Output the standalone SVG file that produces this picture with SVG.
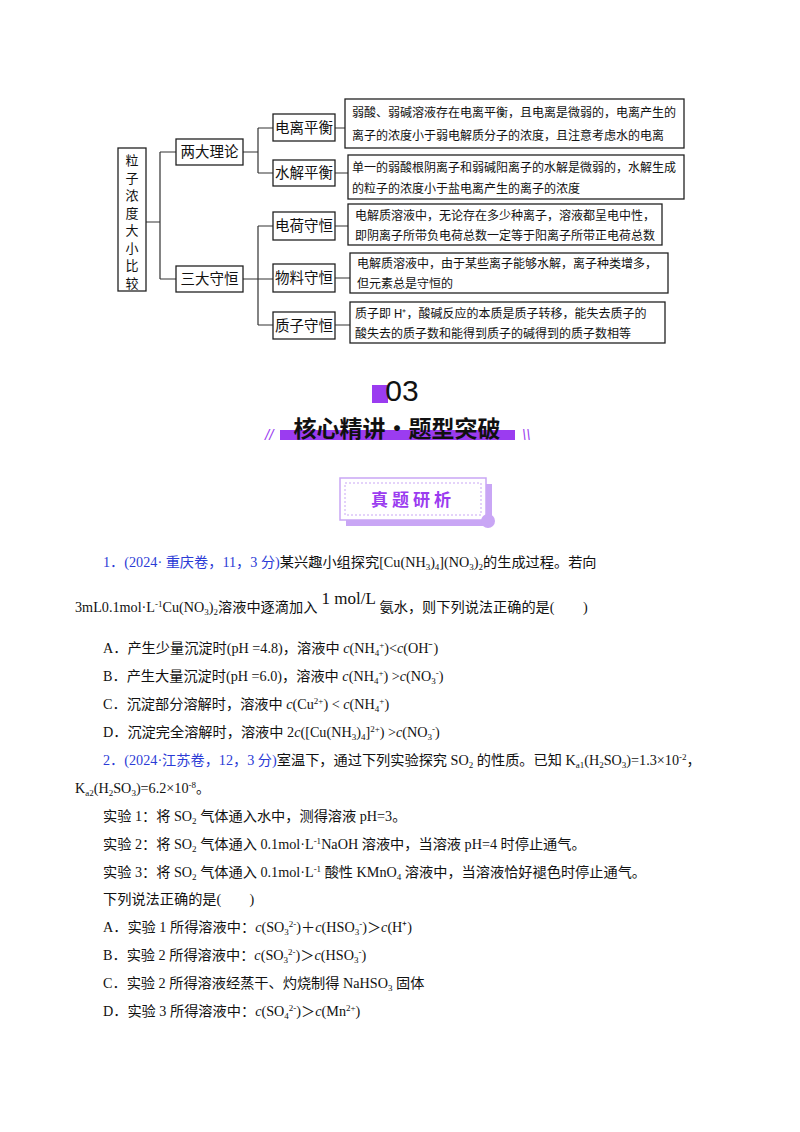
<svg xmlns="http://www.w3.org/2000/svg" width="800" height="1132" viewBox="0 0 800 1132">
<style>
.b{fill:#fff;stroke:#222;stroke-width:1.3}
.bt{font-family:"Noto Sans CJK SC",sans-serif;font-size:14.5px;fill:#111}
.vt{font-family:"Noto Sans CJK SC",sans-serif;font-size:13px;fill:#111;text-anchor:middle}
.st{font-family:"Noto Sans CJK SC",sans-serif;font-size:12px;fill:#111}
.ln{stroke:#333;stroke-width:1.2;fill:none}
.t{font-family:"Liberation Serif","Noto Sans CJK SC",serif;font-size:14.2px;fill:#111}
.blue{fill:#2b3bd6}
.sub{font-size:9px;baseline-shift:-3px}
.sup{font-size:9px;baseline-shift:super}
</style>
<rect width="800" height="1132" fill="#fff"/>
<g id="connectors">
<path class="ln" d="M146 222H160M160 152V279M160 152H176M160 279H176"/>
<path class="ln" d="M243 152H258M258 128V173M258 128H273M258 173H273M335 128H345M335 173H348"/>
<path class="ln" d="M243 279H273M258 226V325M258 226H273M258 325H273M335 226H348M335 278H350M335 325H350"/>
</g>
<g id="root"><rect class="b" x="118" y="148" width="28" height="143"/>
<text class="vt" x="132" y="165">粒</text><text class="vt" x="132" y="182.5">子</text><text class="vt" x="132" y="200">浓</text><text class="vt" x="132" y="217.5">度</text><text class="vt" x="132" y="235">大</text><text class="vt" x="132" y="252.5">小</text><text class="vt" x="132" y="270">比</text><text class="vt" x="132" y="287.5">较</text></g>
<g id="n1"><rect class="b" x="176" y="139" width="67" height="26"/><text class="bt" x="209.5" y="157" text-anchor="middle">两大理论</text></g>
<g id="n2"><rect class="b" x="176" y="266" width="67" height="26"/><text class="bt" x="209.5" y="284" text-anchor="middle">三大守恒</text></g>
<g id="n3"><rect class="b" x="273" y="114" width="62" height="27"/><text class="bt" x="304" y="133" text-anchor="middle">电离平衡</text></g>
<g id="n4"><rect class="b" x="273" y="160" width="62" height="26"/><text class="bt" x="304" y="178" text-anchor="middle">水解平衡</text></g>
<g id="n5"><rect class="b" x="273" y="212" width="62" height="28"/><text class="bt" x="304" y="231" text-anchor="middle">电荷守恒</text></g>
<g id="n6"><rect class="b" x="273" y="264" width="62" height="28"/><text class="bt" x="304" y="283" text-anchor="middle">物料守恒</text></g>
<g id="n7"><rect class="b" x="273" y="312" width="62" height="27"/><text class="bt" x="304" y="331" text-anchor="middle">质子守恒</text></g>
<g id="d1"><rect class="b" x="345" y="99" width="339" height="49"/><text class="st" x="352" y="117">弱酸、弱碱溶液存在电离平衡，且电离是微弱的，电离产生的</text><text class="st" x="352" y="140">离子的浓度小于弱电解质分子的浓度，且注意考虑水的电离</text></g>
<g id="d2"><rect class="b" x="348" y="155" width="336" height="44"/><text class="st" x="352" y="172">单一的弱酸根阴离子和弱碱阳离子的水解是微弱的，水解生成</text><text class="st" x="352" y="193">的粒子的浓度小于盐电离产生的离子的浓度</text></g>
<g id="d3"><rect class="b" x="348" y="204" width="314" height="41"/><text class="st" x="355" y="220">电解质溶液中，无论存在多少种离子，溶液都呈电中性，</text><text class="st" x="355" y="240">即阴离子所带负电荷总数一定等于阳离子所带正电荷总数</text></g>
<g id="d4"><rect class="b" x="350" y="253" width="318" height="40"/><text class="st" x="357" y="268">电解质溶液中，由于某些离子能够水解，离子种类增多，</text><text class="st" x="357" y="288">但元素总是守恒的</text></g>
<g id="d5"><rect class="b" x="350" y="302" width="315" height="41"/><text class="st" x="355" y="318">质子即 H⁺，酸碱反应的本质是质子转移，能失去质子的</text><text class="st" x="355" y="338">酸失去的质子数和能得到质子的碱得到的质子数相等</text></g>
<g id="header">
<rect x="372" y="385" width="16" height="18" fill="#9b3cf0"/>
<text x="402" y="401" text-anchor="middle" font-family="Liberation Sans,sans-serif" font-size="30" fill="#111">03</text>
<rect x="280" y="430" width="235" height="10" fill="#9b3cf0"/>
<text x="397" y="437" text-anchor="middle" font-family="Noto Sans CJK SC,sans-serif" font-weight="bold" font-size="23" fill="#111">核心精讲·题型突破</text>
<text x="265" y="440" font-family="Liberation Sans,sans-serif" font-size="15" fill="#9b3cf0" font-style="italic">//</text>
<text x="522" y="440" font-family="Liberation Sans,sans-serif" font-size="15" fill="#9b3cf0" font-style="italic">\\</text>
<rect x="346" y="484" width="146" height="42" fill="#c9a6f5"/>
<rect x="340" y="478" width="146" height="42" fill="#fff" stroke="#c9a6f5" stroke-width="1.5"/>
<rect x="345" y="483" width="136" height="32" fill="none" stroke="#c9a6f5" stroke-dasharray="2,2"/>
<circle cx="488" cy="521" r="7" fill="#c9a6f5"/>
<text x="413" y="506" text-anchor="middle" font-family="Noto Sans CJK SC,sans-serif" font-weight="bold" font-size="17" letter-spacing="4" fill="#9b3cf0">真题研析</text>
</g>
<g id="q1">
<text class="t" x="103" y="567"><tspan class="blue">1．(2024· 重庆卷，11，3 分)</tspan>某兴趣小组探究[Cu(NH<tspan class="sub">3</tspan>)<tspan class="sub">4</tspan>](NO<tspan class="sub">3</tspan>)<tspan class="sub">2</tspan>的生成过程。若向</text>
<text class="t" x="75" y="612">3mL0.1mol·L<tspan class="sup">-1</tspan>Cu(NO<tspan class="sub">3</tspan>)<tspan class="sub">2</tspan>溶液中逐滴加入<tspan font-size="17" dy="-8"> 1 mol/L </tspan><tspan dy="8">氨水，则下列说法正确的是(　　)</tspan></text>
<text class="t" x="103" y="653">A．产生少量沉淀时(pH =4.8)，溶液中 <tspan font-style="italic">c</tspan>(NH<tspan class="sub">4</tspan><tspan class="sup">+</tspan>)&lt;<tspan font-style="italic">c</tspan>(OH⁻)</text>
<text class="t" x="103" y="681">B．产生大量沉淀时(pH =6.0)，溶液中 <tspan font-style="italic">c</tspan>(NH<tspan class="sub">4</tspan><tspan class="sup">+</tspan>) &gt;<tspan font-style="italic">c</tspan>(NO<tspan class="sub">3</tspan><tspan class="sup">-</tspan>)</text>
<text class="t" x="103" y="709">C．沉淀部分溶解时，溶液中 <tspan font-style="italic">c</tspan>(Cu<tspan class="sup">2+</tspan>) &lt; <tspan font-style="italic">c</tspan>(NH<tspan class="sub">4</tspan><tspan class="sup">+</tspan>)</text>
<text class="t" x="103" y="737">D．沉淀完全溶解时，溶液中 2<tspan font-style="italic">c</tspan>([Cu(NH<tspan class="sub">3</tspan>)<tspan class="sub">4</tspan>]<tspan class="sup">2+</tspan>) &gt;<tspan font-style="italic">c</tspan>(NO<tspan class="sub">3</tspan><tspan class="sup">-</tspan>)</text>
</g>
<g id="q2">
<text class="t" x="103" y="765"><tspan class="blue">2．(2024·江苏卷，12，3 分)</tspan>室温下，通过下列实验探究 SO<tspan class="sub">2</tspan> 的性质。已知 K<tspan class="sub">a1</tspan>(H<tspan class="sub">2</tspan>SO<tspan class="sub">3</tspan>)=1.3×10<tspan class="sup">-2</tspan>，</text>
<text class="t" x="75" y="793">K<tspan class="sub">a2</tspan>(H<tspan class="sub">2</tspan>SO<tspan class="sub">3</tspan>)=6.2×10<tspan class="sup">-8</tspan>。</text>
<text class="t" x="103" y="821">实验 1：将 SO<tspan class="sub">2</tspan> 气体通入水中，测得溶液 pH=3。</text>
<text class="t" x="103" y="849">实验 2：将 SO<tspan class="sub">2</tspan> 气体通入 0.1mol·L<tspan class="sup">-1</tspan>NaOH 溶液中，当溶液 pH=4 时停止通气。</text>
<text class="t" x="103" y="877">实验 3：将 SO<tspan class="sub">2</tspan> 气体通入 0.1mol·L<tspan class="sup">-1</tspan> 酸性 KMnO<tspan class="sub">4</tspan> 溶液中，当溶液恰好褪色时停止通气。</text>
<text class="t" x="103" y="904">下列说法正确的是(　　)</text>
<text class="t" x="103" y="932">A．实验 1 所得溶液中：<tspan font-style="italic">c</tspan>(SO<tspan class="sub">3</tspan><tspan class="sup">2-</tspan>)＋<tspan font-style="italic">c</tspan>(HSO<tspan class="sub">3</tspan><tspan class="sup">-</tspan>)＞<tspan font-style="italic">c</tspan>(H⁺)</text>
<text class="t" x="103" y="960">B．实验 2 所得溶液中：<tspan font-style="italic">c</tspan>(SO<tspan class="sub">3</tspan><tspan class="sup">2-</tspan>)＞<tspan font-style="italic">c</tspan>(HSO<tspan class="sub">3</tspan><tspan class="sup">-</tspan>)</text>
<text class="t" x="103" y="988">C．实验 2 所得溶液经蒸干、灼烧制得 NaHSO<tspan class="sub">3</tspan> 固体</text>
<text class="t" x="103" y="1016">D．实验 3 所得溶液中：<tspan font-style="italic">c</tspan>(SO<tspan class="sub">4</tspan><tspan class="sup">2-</tspan>)＞<tspan font-style="italic">c</tspan>(Mn<tspan class="sup">2+</tspan>)</text>
</g>
</svg>
